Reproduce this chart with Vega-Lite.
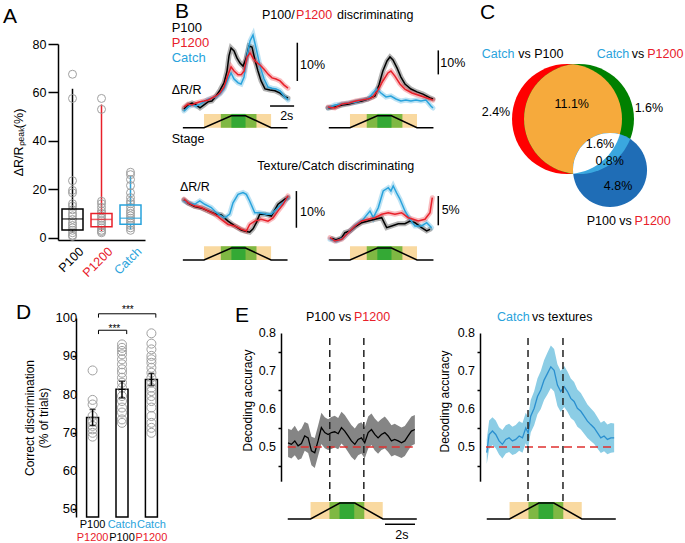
{
"$schema":"https://vega.github.io/schema/vega-lite/v6.json",
"background":"white",
"padding":0,
"autosize":{"type":"pad"},
"config":{
 "view":{"stroke":null},
 "font":"Liberation Sans",
 "axis":{"labelFont":"Liberation Sans","titleFont":"Liberation Sans","labelColor":"#000","titleColor":"#000","domainColor":"#000","tickColor":"#000","grid":false,"titleFontWeight":"normal","domainWidth":1.5,"tickWidth":1.5,"labelFontSize":12.5,"titleFontSize":12.5},
 "text":{"font":"Liberation Sans","fontSize":12.5,"color":"#000"},
 "title":{"font":"Liberation Sans","fontWeight":"normal","fontSize":21,"anchor":"start","frame":"group","color":"#000"}
},
"datasets":{
 "boxes":[{"g":"P100","lo":2,"q1":3.1,"med":7.7,"q3":11.8,"hi":61.5},{"g":"P1200","lo":2.7,"q1":4.5,"med":7.5,"q3":10,"hi":55},{"g":"Catch","lo":3.4,"q1":5.5,"med":8,"q3":13.5,"hi":25.5}],
 "apts":[
  {"g":"P100","v":67.5},{"g":"P100","v":57.5},{"g":"P100","v":23.5},{"g":"P100","v":19.5},{"g":"P100","v":18.5},{"g":"P100","v":14},{"g":"P100","v":13},{"g":"P100","v":11.5},{"g":"P100","v":10},{"g":"P100","v":9},{"g":"P100","v":7.5},{"g":"P100","v":6},{"g":"P100","v":5},{"g":"P100","v":4},{"g":"P100","v":3},{"g":"P100","v":2},{"g":"P100","v":1},{"g":"P100","v":0.5},
  {"g":"P1200","v":57.5},{"g":"P1200","v":53},{"g":"P1200","v":15},{"g":"P1200","v":14},{"g":"P1200","v":12.5},{"g":"P1200","v":11},{"g":"P1200","v":10},{"g":"P1200","v":9},{"g":"P1200","v":8},{"g":"P1200","v":7},{"g":"P1200","v":6},{"g":"P1200","v":5},{"g":"P1200","v":4},{"g":"P1200","v":3},{"g":"P1200","v":2.5},{"g":"P1200","v":2},
  {"g":"Catch","v":27},{"g":"Catch","v":26},{"g":"Catch","v":24},{"g":"Catch","v":21.5},{"g":"Catch","v":18.5},{"g":"Catch","v":16.5},{"g":"Catch","v":15},{"g":"Catch","v":14},{"g":"Catch","v":12.5},{"g":"Catch","v":11},{"g":"Catch","v":10},{"g":"Catch","v":9},{"g":"Catch","v":8},{"g":"Catch","v":7},{"g":"Catch","v":6},{"g":"Catch","v":5},{"g":"Catch","v":4},{"g":"Catch","v":3}
 ],
 "b1":[
  {"t":0,"v":1.3,"s":"P100"},{"t":0.35,"v":2.4,"s":"P100"},{"t":0.7,"v":2.9,"s":"P100"},{"t":1.04,"v":2.4,"s":"P100"},{"t":1.39,"v":1.6,"s":"P100"},{"t":1.74,"v":2.4,"s":"P100"},{"t":2.09,"v":3.2,"s":"P100"},{"t":2.43,"v":3.4,"s":"P100"},{"t":2.78,"v":4.7,"s":"P100"},{"t":3.13,"v":6.3,"s":"P100"},{"t":3.48,"v":8.2,"s":"P100"},{"t":3.74,"v":11.3,"s":"P100"},{"t":3.91,"v":15.3,"s":"P100"},{"t":4.09,"v":17.4,"s":"P100"},{"t":4.35,"v":16.6,"s":"P100"},{"t":4.61,"v":14.7,"s":"P100"},{"t":4.87,"v":13.4,"s":"P100"},{"t":5.13,"v":12.6,"s":"P100"},{"t":5.39,"v":14.5,"s":"P100"},{"t":5.65,"v":17.9,"s":"P100"},{"t":5.91,"v":17.6,"s":"P100"},{"t":6.17,"v":14.2,"s":"P100"},{"t":6.43,"v":11.3,"s":"P100"},{"t":6.7,"v":8.7,"s":"P100"},{"t":7.04,"v":6.6,"s":"P100"},{"t":7.48,"v":6.3,"s":"P100"},{"t":7.91,"v":6.1,"s":"P100"},{"t":8.35,"v":5.5,"s":"P100"},{"t":8.78,"v":4.5,"s":"P100"},{"t":9.04,"v":4.2,"s":"P100"},
  {"t":0,"v":0.8,"s":"Catch"},{"t":0.35,"v":1.8,"s":"Catch"},{"t":0.7,"v":2.4,"s":"Catch"},{"t":1.04,"v":2.1,"s":"Catch"},{"t":1.39,"v":2.6,"s":"Catch"},{"t":1.74,"v":3.2,"s":"Catch"},{"t":2.09,"v":3.9,"s":"Catch"},{"t":2.43,"v":4.2,"s":"Catch"},{"t":2.78,"v":4.5,"s":"Catch"},{"t":3.13,"v":5.3,"s":"Catch"},{"t":3.48,"v":6.6,"s":"Catch"},{"t":3.83,"v":9.2,"s":"Catch"},{"t":4.09,"v":10.8,"s":"Catch"},{"t":4.35,"v":9.2,"s":"Catch"},{"t":4.7,"v":8.2,"s":"Catch"},{"t":4.96,"v":7.9,"s":"Catch"},{"t":5.22,"v":9.7,"s":"Catch"},{"t":5.48,"v":15.3,"s":"Catch"},{"t":5.74,"v":19.2,"s":"Catch"},{"t":6.0,"v":20.8,"s":"Catch"},{"t":6.26,"v":17.4,"s":"Catch"},{"t":6.61,"v":12.6,"s":"Catch"},{"t":6.96,"v":9.2,"s":"Catch"},{"t":7.3,"v":7.1,"s":"Catch"},{"t":7.65,"v":6.8,"s":"Catch"},{"t":8.0,"v":6.6,"s":"Catch"},{"t":8.35,"v":6.1,"s":"Catch"},{"t":8.7,"v":4.7,"s":"Catch"},{"t":9.04,"v":3.7,"s":"Catch"},
  {"t":0,"v":1.8,"s":"P1200"},{"t":0.35,"v":2.6,"s":"P1200"},{"t":0.7,"v":2.4,"s":"P1200"},{"t":1.04,"v":2.9,"s":"P1200"},{"t":1.39,"v":3.2,"s":"P1200"},{"t":1.74,"v":3.4,"s":"P1200"},{"t":2.09,"v":3.7,"s":"P1200"},{"t":2.43,"v":4.2,"s":"P1200"},{"t":2.78,"v":4.7,"s":"P1200"},{"t":3.13,"v":5.5,"s":"P1200"},{"t":3.48,"v":7.1,"s":"P1200"},{"t":3.83,"v":10.3,"s":"P1200"},{"t":4.09,"v":12.4,"s":"P1200"},{"t":4.35,"v":11.3,"s":"P1200"},{"t":4.7,"v":10.3,"s":"P1200"},{"t":4.96,"v":10.3,"s":"P1200"},{"t":5.22,"v":11.3,"s":"P1200"},{"t":5.48,"v":15.0,"s":"P1200"},{"t":5.74,"v":16.1,"s":"P1200"},{"t":6.0,"v":14.7,"s":"P1200"},{"t":6.26,"v":13.7,"s":"P1200"},{"t":6.61,"v":12.9,"s":"P1200"},{"t":6.96,"v":11.8,"s":"P1200"},{"t":7.3,"v":10.5,"s":"P1200"},{"t":7.65,"v":9.5,"s":"P1200"},{"t":8.0,"v":9.2,"s":"P1200"},{"t":8.35,"v":8.7,"s":"P1200"},{"t":8.7,"v":7.6,"s":"P1200"},{"t":9.04,"v":6.8,"s":"P1200"}
 ],
 "b2":[
  {"t":-0.17,"v":2.5,"s":"P100"},{"t":0.43,"v":2.9,"s":"P100"},{"t":1.04,"v":3.75,"s":"P100"},{"t":1.65,"v":4.2,"s":"P100"},{"t":2.26,"v":5.0,"s":"P100"},{"t":2.78,"v":5.4,"s":"P100"},{"t":3.3,"v":6.25,"s":"P100"},{"t":3.91,"v":7.5,"s":"P100"},{"t":4.26,"v":12.1,"s":"P100"},{"t":4.6,"v":17.9,"s":"P100"},{"t":4.96,"v":22.1,"s":"P100"},{"t":5.22,"v":23.75,"s":"P100"},{"t":5.48,"v":22.5,"s":"P100"},{"t":5.83,"v":19.2,"s":"P100"},{"t":6.17,"v":15.4,"s":"P100"},{"t":6.52,"v":12.5,"s":"P100"},{"t":7.04,"v":10.4,"s":"P100"},{"t":7.57,"v":9.2,"s":"P100"},{"t":8.09,"v":8.3,"s":"P100"},{"t":8.7,"v":6.7,"s":"P100"},{"t":8.96,"v":6.25,"s":"P100"},
  {"t":-0.17,"v":2.5,"s":"Catch"},{"t":0.43,"v":3.75,"s":"Catch"},{"t":1.04,"v":4.2,"s":"Catch"},{"t":1.65,"v":4.6,"s":"Catch"},{"t":2.26,"v":5.0,"s":"Catch"},{"t":2.78,"v":5.8,"s":"Catch"},{"t":3.3,"v":6.25,"s":"Catch"},{"t":3.74,"v":8.75,"s":"Catch"},{"t":4.09,"v":10.4,"s":"Catch"},{"t":4.43,"v":8.75,"s":"Catch"},{"t":4.87,"v":7.1,"s":"Catch"},{"t":5.3,"v":7.5,"s":"Catch"},{"t":5.74,"v":6.25,"s":"Catch"},{"t":6.17,"v":5.4,"s":"Catch"},{"t":6.6,"v":5.8,"s":"Catch"},{"t":7.04,"v":5.4,"s":"Catch"},{"t":7.48,"v":5.8,"s":"Catch"},{"t":7.91,"v":5.4,"s":"Catch"},{"t":8.35,"v":5.8,"s":"Catch"},{"t":8.78,"v":3.3,"s":"Catch"},{"t":8.96,"v":2.5,"s":"Catch"},
  {"t":-0.17,"v":2.9,"s":"P1200"},{"t":0.43,"v":2.5,"s":"P1200"},{"t":1.04,"v":4.2,"s":"P1200"},{"t":1.65,"v":4.6,"s":"P1200"},{"t":2.26,"v":5.4,"s":"P1200"},{"t":2.78,"v":5.8,"s":"P1200"},{"t":3.3,"v":6.25,"s":"P1200"},{"t":3.74,"v":7.1,"s":"P1200"},{"t":4.17,"v":10.0,"s":"P1200"},{"t":4.6,"v":13.75,"s":"P1200"},{"t":5.04,"v":17.1,"s":"P1200"},{"t":5.3,"v":17.9,"s":"P1200"},{"t":5.65,"v":15.8,"s":"P1200"},{"t":6.09,"v":12.5,"s":"P1200"},{"t":6.52,"v":10.4,"s":"P1200"},{"t":7.13,"v":8.75,"s":"P1200"},{"t":7.65,"v":7.9,"s":"P1200"},{"t":8.17,"v":7.1,"s":"P1200"},{"t":8.7,"v":6.25,"s":"P1200"},{"t":8.96,"v":5.8,"s":"P1200"}
 ],
 "b3":[
  {"t":0,"v":12.3,"s":"P100"},{"t":0.35,"v":11.4,"s":"P100"},{"t":0.93,"v":10.5,"s":"P100"},{"t":1.5,"v":10.1,"s":"P100"},{"t":2.09,"v":9.3,"s":"P100"},{"t":2.67,"v":8.5,"s":"P100"},{"t":3.24,"v":8.2,"s":"P100"},{"t":3.83,"v":6.5,"s":"P100"},{"t":4.41,"v":5.2,"s":"P100"},{"t":4.98,"v":4.1,"s":"P100"},{"t":5.28,"v":3.8,"s":"P100"},{"t":5.71,"v":3.5,"s":"P100"},{"t":6.0,"v":4.4,"s":"P100"},{"t":6.29,"v":6.1,"s":"P100"},{"t":6.58,"v":8.4,"s":"P100"},{"t":7.04,"v":8.4,"s":"P100"},{"t":7.59,"v":7.9,"s":"P100"},{"t":8.17,"v":11.1,"s":"P100"},{"t":8.76,"v":12.5,"s":"P100"},{"t":9.04,"v":12.9,"s":"P100"},
  {"t":0,"v":12.0,"s":"Catch"},{"t":0.35,"v":11.5,"s":"Catch"},{"t":0.93,"v":11.1,"s":"Catch"},{"t":1.37,"v":12.0,"s":"Catch"},{"t":1.8,"v":11.1,"s":"Catch"},{"t":2.37,"v":10.2,"s":"Catch"},{"t":2.96,"v":8.4,"s":"Catch"},{"t":3.54,"v":7.4,"s":"Catch"},{"t":3.97,"v":8.4,"s":"Catch"},{"t":4.26,"v":11.5,"s":"Catch"},{"t":4.7,"v":13.8,"s":"Catch"},{"t":5.13,"v":14.3,"s":"Catch"},{"t":5.42,"v":13.8,"s":"Catch"},{"t":5.71,"v":12.0,"s":"Catch"},{"t":6.15,"v":8.8,"s":"Catch"},{"t":6.58,"v":8.8,"s":"Catch"},{"t":7.16,"v":8.4,"s":"Catch"},{"t":7.59,"v":8.4,"s":"Catch"},{"t":8.17,"v":10.2,"s":"Catch"},{"t":8.61,"v":11.5,"s":"Catch"},{"t":9.04,"v":12.9,"s":"Catch"},
  {"t":0,"v":12.5,"s":"P1200"},{"t":0.35,"v":11.5,"s":"P1200"},{"t":0.93,"v":10.6,"s":"P1200"},{"t":1.5,"v":10.2,"s":"P1200"},{"t":2.09,"v":9.3,"s":"P1200"},{"t":2.67,"v":8.4,"s":"P1200"},{"t":3.24,"v":7.0,"s":"P1200"},{"t":3.83,"v":5.6,"s":"P1200"},{"t":4.41,"v":5.2,"s":"P1200"},{"t":4.98,"v":4.3,"s":"P1200"},{"t":5.42,"v":3.8,"s":"P1200"},{"t":5.71,"v":5.6,"s":"P1200"},{"t":6.15,"v":6.5,"s":"P1200"},{"t":6.72,"v":7.0,"s":"P1200"},{"t":7.3,"v":6.5,"s":"P1200"},{"t":7.74,"v":7.4,"s":"P1200"},{"t":8.17,"v":9.3,"s":"P1200"},{"t":8.61,"v":11.1,"s":"P1200"},{"t":9.04,"v":13.4,"s":"P1200"}
 ],
 "b4":[
  {"t":0.2,"v":1.1,"s":"P100"},{"t":0.52,"v":0.85,"s":"P100"},{"t":1.02,"v":1.24,"s":"P100"},{"t":1.3,"v":2.1,"s":"P100"},{"t":1.74,"v":2.39,"s":"P100"},{"t":2.17,"v":3.07,"s":"P100"},{"t":2.76,"v":3.8,"s":"P100"},{"t":3.33,"v":4.09,"s":"P100"},{"t":3.91,"v":4.38,"s":"P100"},{"t":4.5,"v":4.65,"s":"P100"},{"t":4.93,"v":2.95,"s":"P100"},{"t":5.37,"v":3.24,"s":"P100"},{"t":5.94,"v":3.63,"s":"P100"},{"t":6.52,"v":3.63,"s":"P100"},{"t":6.96,"v":4.09,"s":"P100"},{"t":7.39,"v":3.8,"s":"P100"},{"t":7.97,"v":2.95,"s":"P100"},{"t":8.41,"v":2.39,"s":"P100"},{"t":8.7,"v":2.67,"s":"P100"},
  {"t":0,"v":0.97,"s":"Catch"},{"t":0.58,"v":0.68,"s":"Catch"},{"t":1.16,"v":1.24,"s":"Catch"},{"t":1.74,"v":2.39,"s":"Catch"},{"t":2.32,"v":3.53,"s":"Catch"},{"t":2.9,"v":4.38,"s":"Catch"},{"t":3.48,"v":5.79,"s":"Catch"},{"t":3.77,"v":4.65,"s":"Catch"},{"t":4.2,"v":6.35,"s":"Catch"},{"t":4.63,"v":9.2,"s":"Catch"},{"t":5.07,"v":9.76,"s":"Catch"},{"t":5.3,"v":9.2,"s":"Catch"},{"t":5.5,"v":10.05,"s":"Catch"},{"t":5.8,"v":8.86,"s":"Catch"},{"t":6.09,"v":7.79,"s":"Catch"},{"t":6.52,"v":5.79,"s":"Catch"},{"t":6.96,"v":4.38,"s":"Catch"},{"t":7.39,"v":3.24,"s":"Catch"},{"t":7.97,"v":3.24,"s":"Catch"},{"t":8.41,"v":3.8,"s":"Catch"},{"t":8.84,"v":2.95,"s":"Catch"},
  {"t":0,"v":1.24,"s":"P1200"},{"t":0.43,"v":0.68,"s":"P1200"},{"t":1.02,"v":0.97,"s":"P1200"},{"t":1.59,"v":2.1,"s":"P1200"},{"t":2.17,"v":3.24,"s":"P1200"},{"t":2.76,"v":4.09,"s":"P1200"},{"t":3.33,"v":4.38,"s":"P1200"},{"t":3.91,"v":4.65,"s":"P1200"},{"t":4.5,"v":5.23,"s":"P1200"},{"t":5.07,"v":5.5,"s":"P1200"},{"t":5.65,"v":5.23,"s":"P1200"},{"t":6.23,"v":5.5,"s":"P1200"},{"t":6.81,"v":4.65,"s":"P1200"},{"t":7.24,"v":4.38,"s":"P1200"},{"t":7.68,"v":4.09,"s":"P1200"},{"t":8.26,"v":4.38,"s":"P1200"},{"t":8.7,"v":5.5,"s":"P1200"},{"t":8.9,"v":8.06,"s":"P1200"}
 ],
 "zonesB":[{"zone":"window","t0":1.74,"t1":7.57},{"zone":"touch","t0":3.2,"t1":6.3},{"zone":"hold","t0":4.12,"t1":5.35}],
 "trapB":[{"t":-0.1,"lift":0},{"t":1.74,"lift":0},{"t":4.12,"lift":1},{"t":5.35,"lift":1},{"t":7.57,"lift":0},{"t":9.0,"lift":0}],
 "zonesE":[{"zone":"window","t0":1.52,"t1":6.33},{"zone":"touch","t0":2.78,"t1":5.1},{"zone":"hold","t0":3.45,"t1":4.43}],
 "trapE":[{"t":0,"lift":0},{"t":1.52,"lift":0},{"t":3.47,"lift":1},{"t":4.47,"lift":1},{"t":6.34,"lift":0},{"t":8.6,"lift":0}],
 "etk":[{"tk":0.5},{"tk":0.6},{"tk":0.7},{"tk":0.8}],
 "dtk":[{"tk":50},{"tk":60},{"tk":70},{"tk":80},{"tk":90},{"tk":100}],
 "e1":[
  {"t":0.02,"v":0.511,"lo":0.474,"hi":0.548},{"t":0.24,"v":0.507,"lo":0.470,"hi":0.545},{"t":0.47,"v":0.516,"lo":0.478,"hi":0.556},{"t":0.69,"v":0.503,"lo":0.466,"hi":0.541},{"t":0.91,"v":0.509,"lo":0.470,"hi":0.548},{"t":1.13,"v":0.529,"lo":0.490,"hi":0.566},{"t":1.36,"v":0.524,"lo":0.484,"hi":0.561},{"t":1.58,"v":0.490,"lo":0.452,"hi":0.527},{"t":1.8,"v":0.485,"lo":0.445,"hi":0.524},{"t":2.02,"v":0.516,"lo":0.476,"hi":0.556},{"t":2.24,"v":0.551,"lo":0.508,"hi":0.590},{"t":2.47,"v":0.538,"lo":0.497,"hi":0.578},{"t":2.69,"v":0.533,"lo":0.492,"hi":0.573},{"t":2.91,"v":0.538,"lo":0.495,"hi":0.579},{"t":3.13,"v":0.540,"lo":0.499,"hi":0.582},{"t":3.36,"v":0.535,"lo":0.494,"hi":0.576},{"t":3.58,"v":0.551,"lo":0.509,"hi":0.593},{"t":3.8,"v":0.542,"lo":0.500,"hi":0.584},{"t":4.02,"v":0.529,"lo":0.487,"hi":0.571},{"t":4.24,"v":0.516,"lo":0.474,"hi":0.558},{"t":4.47,"v":0.507,"lo":0.465,"hi":0.549},{"t":4.69,"v":0.520,"lo":0.478,"hi":0.561},{"t":4.91,"v":0.524,"lo":0.483,"hi":0.565},{"t":5.13,"v":0.511,"lo":0.470,"hi":0.552},{"t":5.36,"v":0.538,"lo":0.496,"hi":0.580},{"t":5.58,"v":0.546,"lo":0.505,"hi":0.588},{"t":5.8,"v":0.533,"lo":0.491,"hi":0.575},{"t":6.02,"v":0.524,"lo":0.482,"hi":0.566},{"t":6.24,"v":0.533,"lo":0.492,"hi":0.574},{"t":6.47,"v":0.538,"lo":0.496,"hi":0.580},{"t":6.69,"v":0.529,"lo":0.487,"hi":0.570},{"t":6.91,"v":0.516,"lo":0.475,"hi":0.557},{"t":7.13,"v":0.520,"lo":0.479,"hi":0.561},{"t":7.36,"v":0.516,"lo":0.475,"hi":0.556},{"t":7.58,"v":0.511,"lo":0.471,"hi":0.551},{"t":7.8,"v":0.516,"lo":0.476,"hi":0.555},{"t":8.02,"v":0.529,"lo":0.490,"hi":0.568},{"t":8.24,"v":0.542,"lo":0.503,"hi":0.580},{"t":8.47,"v":0.546,"lo":0.508,"hi":0.584}
 ],
 "e2":[
  {"t":0,"v":0.485,"lo":0.455,"hi":0.52},{"t":0.16,"v":0.533,"lo":0.495,"hi":0.57},{"t":0.38,"v":0.542,"lo":0.505,"hi":0.578},{"t":0.6,"v":0.533,"lo":0.497,"hi":0.57},{"t":0.82,"v":0.516,"lo":0.48,"hi":0.552},{"t":1.04,"v":0.507,"lo":0.47,"hi":0.545},{"t":1.27,"v":0.52,"lo":0.483,"hi":0.557},{"t":1.49,"v":0.524,"lo":0.487,"hi":0.561},{"t":1.71,"v":0.516,"lo":0.479,"hi":0.553},{"t":1.93,"v":0.52,"lo":0.482,"hi":0.558},{"t":2.16,"v":0.529,"lo":0.49,"hi":0.568},{"t":2.38,"v":0.524,"lo":0.485,"hi":0.563},{"t":2.6,"v":0.55,"lo":0.51,"hi":0.59},{"t":2.76,"v":0.537,"lo":0.497,"hi":0.578},{"t":2.93,"v":0.581,"lo":0.538,"hi":0.624},{"t":3.16,"v":0.602,"lo":0.557,"hi":0.647},{"t":3.38,"v":0.633,"lo":0.586,"hi":0.68},{"t":3.6,"v":0.65,"lo":0.6,"hi":0.7},{"t":3.82,"v":0.676,"lo":0.624,"hi":0.728},{"t":4.04,"v":0.693,"lo":0.638,"hi":0.748},{"t":4.27,"v":0.711,"lo":0.655,"hi":0.767},{"t":4.49,"v":0.702,"lo":0.646,"hi":0.758},{"t":4.71,"v":0.663,"lo":0.608,"hi":0.718},{"t":4.93,"v":0.646,"lo":0.592,"hi":0.7},{"t":5.16,"v":0.659,"lo":0.605,"hi":0.713},{"t":5.38,"v":0.646,"lo":0.593,"hi":0.699},{"t":5.6,"v":0.628,"lo":0.576,"hi":0.68},{"t":5.82,"v":0.62,"lo":0.569,"hi":0.671},{"t":6.04,"v":0.602,"lo":0.553,"hi":0.651},{"t":6.27,"v":0.594,"lo":0.546,"hi":0.642},{"t":6.49,"v":0.581,"lo":0.535,"hi":0.627},{"t":6.71,"v":0.568,"lo":0.524,"hi":0.612},{"t":6.93,"v":0.559,"lo":0.516,"hi":0.602},{"t":7.16,"v":0.55,"lo":0.508,"hi":0.592},{"t":7.38,"v":0.537,"lo":0.496,"hi":0.578},{"t":7.6,"v":0.524,"lo":0.484,"hi":0.564},{"t":7.82,"v":0.529,"lo":0.489,"hi":0.569},{"t":8.04,"v":0.52,"lo":0.481,"hi":0.559},{"t":8.27,"v":0.524,"lo":0.485,"hi":0.563},{"t":8.49,"v":0.524,"lo":0.486,"hi":0.562}
 ],
 "dbars":[{"c":1,"m":74,"lo":71.9,"hi":76.1},{"c":2,"m":81.4,"lo":79.1,"hi":83.5},{"c":3,"m":83.9,"lo":82.4,"hi":85.5}],
 "dpts":[
  {"c":1,"v":86.3},{"c":1,"v":78.6},{"c":1,"v":77.4},{"c":1,"v":74.4},{"c":1,"v":73},{"c":1,"v":71.8},{"c":1,"v":70.9},{"c":1,"v":70},{"c":1,"v":69},
  {"c":2,"v":93.1},{"c":2,"v":92.2},{"c":2,"v":91.4},{"c":2,"v":90.5},{"c":2,"v":89.2},{"c":2,"v":87.9},{"c":2,"v":86.6},{"c":2,"v":85.7},{"c":2,"v":84.4},{"c":2,"v":83.1},{"c":2,"v":81.8},{"c":2,"v":79.6},{"c":2,"v":78.3},{"c":2,"v":76.6},{"c":2,"v":75.3},{"c":2,"v":73.5},{"c":2,"v":72.6},
  {"c":3,"v":96},{"c":3,"v":93.3},{"c":3,"v":91.8},{"c":3,"v":90.1},{"c":3,"v":89.2},{"c":3,"v":88.3},{"c":3,"v":87},{"c":3,"v":85.7},{"c":3,"v":84.4},{"c":3,"v":83.1},{"c":3,"v":81.8},{"c":3,"v":80.9},{"c":3,"v":79.6},{"c":3,"v":78.3},{"c":3,"v":76.6},{"c":3,"v":74.4},{"c":3,"v":72.6},{"c":3,"v":71.3},{"c":3,"v":70}
 ],
 "dlabels":[{"c":1,"row":1,"lab":"P100"},{"c":1,"row":2,"lab":"P1200"},{"c":2,"row":1,"lab":"Catch"},{"c":2,"row":2,"lab":"P100"},{"c":3,"row":1,"lab":"Catch"},{"c":3,"row":2,"lab":"P1200"}]
},
"columns":6,"align":"each","bounds":"flush","spacing":0,
"resolve":{"scale":{"color":"independent"}},
"concat":[
 {"width":1,"height":28,"data":{"values":[]},"mark":"point"},
 {"width":1,"height":28,"data":{"values":[]},"mark":"point"},
 {"width":1,"height":28,"data":{"values":[]},"mark":"point"},
 {"width":1,"height":28,"data":{"values":[]},"mark":"point"},
 {"width":1,"height":28,"data":{"values":[]},"mark":"point"},
 {"width":1,"height":28,"data":{"values":[]},"mark":"point"},

 {"width":58,"height":1,"data":{"values":[]},"mark":"point"},
 {"width":87,"height":211,
  "title":{"text":"A","dx":-55,"offset":2},
  "layer":[
   {"data":{"name":"boxes"},"mark":{"type":"rule","strokeWidth":1.5},"encoding":{"x":{"field":"g","type":"nominal","scale":{"type":"point","padding":0.5,"domain":["P100","P1200","Catch"]},"axis":{"title":null,"labels":false,"ticks":false,"domain":true}},"y":{"field":"lo","type":"quantitative","scale":{"domain":[-1,80],"range":[211,15],"nice":false,"zero":false},"axis":{"title":"ΔR/Rₚₑₐₖ(%)","values":[0,20,40,60,80],"tickSize":10,"labelPadding":2,"titlePadding":7}},"y2":{"field":"q1"},"color":{"field":"g","type":"nominal","scale":{"domain":["P100","P1200","Catch"],"range":["#000000","#e8202a","#29a3dc"]},"legend":null}}},
   {"data":{"name":"boxes"},"mark":{"type":"rule","strokeWidth":1.5},"encoding":{"x":{"field":"g","type":"nominal"},"y":{"field":"q3","type":"quantitative"},"y2":{"field":"hi"},"color":{"field":"g","type":"nominal","legend":null}}},
   {"data":{"name":"apts"},"mark":{"type":"point","size":64,"filled":false,"color":"#a0a0a0","strokeWidth":1,"opacity":1},"encoding":{"x":{"field":"g","type":"nominal"},"y":{"field":"v","type":"quantitative"}}},
   {"data":{"name":"boxes"},"mark":{"type":"bar","size":21,"filled":false,"strokeWidth":1.5,"orient":"vertical"},"encoding":{"x":{"field":"g","type":"nominal"},"y":{"field":"q1","type":"quantitative"},"y2":{"field":"q3"},"color":{"field":"g","type":"nominal","legend":null}}},
   {"data":{"name":"boxes"},"mark":{"type":"tick","orient":"horizontal","size":21,"thickness":1.5},"encoding":{"x":{"field":"g","type":"nominal"},"y":{"field":"med","type":"quantitative"},"color":{"field":"g","type":"nominal","legend":null}}},
   {"data":{"name":"boxes"},"mark":{"type":"text","angle":315,"align":"right","baseline":"middle","xOffset":9},"encoding":{"x":{"field":"g","type":"nominal"},"y":{"datum":-4.9,"type":"quantitative"},"text":{"field":"g"},"color":{"field":"g","type":"nominal","legend":null}}}
  ]},
 {"width":16,"height":1,"data":{"values":[]},"mark":"point"},
 {"width":249,"height":233,
  "resolve":{"scale":{"x":"independent","y":"independent"}},
  "layer":[
   {"data":{"name":"b1"},"layer":[
    {"mark":{"type":"line","strokeWidth":5,"opacity":0.3,"strokeCap":"round"},"encoding":{"x":{"field":"t","type":"quantitative","scale":{"domain":[0,9.04],"range":[0,104],"nice":false,"zero":false},"axis":null},"y":{"field":"v","type":"quantitative","scale":{"domain":[0,10],"range":[85,47],"nice":false,"zero":false},"axis":null},"color":{"field":"s","type":"nominal","scale":{"domain":["P100","Catch","P1200"],"range":["#000000","#29a3dc","#e8202a"]},"legend":null}}},
    {"mark":{"type":"line","strokeWidth":1.5},"encoding":{"x":{"field":"t","type":"quantitative","axis":null},"y":{"field":"v","type":"quantitative","axis":null},"color":{"field":"s","type":"nominal","legend":null}}},
    {"data":{"values":[{}]},"mark":{"type":"rule","strokeWidth":1.5,"color":"#000"},"encoding":{"x":{"datum":9.85,"type":"quantitative","axis":null},"y":{"datum":8.68,"type":"quantitative","axis":null},"y2":{"datum":18.76}}},
    {"data":{"values":[{}]},"mark":{"type":"rule","strokeWidth":1.5,"color":"#000"},"encoding":{"x":{"datum":7.48,"type":"quantitative","axis":null},"x2":{"datum":9.57},"y":{"datum":2.1,"type":"quantitative","axis":null}}},
    {"data":{"values":[{}]},"mark":{"type":"text","text":"B","align":"left","baseline":"alphabetic","fontSize":21},"encoding":{"x":{"datum":-0.78,"type":"quantitative","axis":null},"y":{"datum":25.3,"type":"quantitative","axis":null}}},
    {"data":{"values":[{}]},"mark":{"type":"text","text":"10%","align":"left","baseline":"middle"},"encoding":{"x":{"datum":10.09,"type":"quantitative","axis":null},"y":{"datum":12.9,"type":"quantitative","axis":null}}},
    {"data":{"values":[{}]},"mark":{"type":"text","text":"2s","align":"center","baseline":"middle"},"encoding":{"x":{"datum":8.93,"type":"quantitative","axis":null},"y":{"datum":-0.5,"type":"quantitative","axis":null}}},
    {"data":{"values":[{}]},"mark":{"type":"text","text":"P100","align":"left","baseline":"middle","fontSize":13},"encoding":{"x":{"datum":-1.07,"type":"quantitative","axis":null},"y":{"datum":22.7,"type":"quantitative","axis":null}}},
    {"data":{"values":[{}]},"mark":{"type":"text","text":"P1200","align":"left","baseline":"middle","fontSize":13,"color":"#e8202a"},"encoding":{"x":{"datum":-1.07,"type":"quantitative","axis":null},"y":{"datum":18.6,"type":"quantitative","axis":null}}},
    {"data":{"values":[{}]},"mark":{"type":"text","text":"Catch","align":"left","baseline":"middle","fontSize":13,"color":"#29a3dc"},"encoding":{"x":{"datum":-1.07,"type":"quantitative","axis":null},"y":{"datum":14.7,"type":"quantitative","axis":null}}},
    {"data":{"values":[{}]},"mark":{"type":"text","text":"ΔR/R","align":"left","baseline":"middle"},"encoding":{"x":{"datum":-1.07,"type":"quantitative","axis":null},"y":{"datum":6.3,"type":"quantitative","axis":null}}},
    {"data":{"values":[{}]},"mark":{"type":"text","text":"Stage","align":"left","baseline":"middle"},"encoding":{"x":{"datum":-1.07,"type":"quantitative","axis":null},"y":{"datum":-6.45,"type":"quantitative","axis":null}}},
    {"data":{"values":[{}]},"mark":{"type":"text","text":"P100/","align":"left","baseline":"middle"},"encoding":{"x":{"datum":6.78,"type":"quantitative","axis":null},"y":{"datum":26.05,"type":"quantitative","axis":null}}},
    {"data":{"values":[{}]},"mark":{"type":"text","text":"P1200","align":"left","baseline":"middle","color":"#e8202a"},"encoding":{"x":{"datum":9.74,"type":"quantitative","axis":null},"y":{"datum":26.05,"type":"quantitative","axis":null}}},
    {"data":{"values":[{}]},"mark":{"type":"text","text":"discriminating","align":"left","baseline":"middle"},"encoding":{"x":{"datum":13.3,"type":"quantitative","axis":null},"y":{"datum":26.05,"type":"quantitative","axis":null}}}
   ]},
   {"layer":[
    {"data":{"name":"zonesB"},"transform":[{"filter":"datum.zone==='window'"}],"mark":{"type":"rect","color":"#f9d9a0"},"encoding":{"x":{"field":"t0","type":"quantitative","scale":{"domain":[0,9.04],"range":[0,104],"nice":false,"zero":false},"axis":null},"x2":{"field":"t1"},"y":{"datum":0,"type":"quantitative","scale":{"domain":[0,1],"range":[98.7,86.7],"nice":false,"zero":false},"axis":null},"y2":{"datum":1.15}}},
    {"data":{"name":"zonesB"},"transform":[{"filter":"datum.zone==='touch'"}],"mark":{"type":"rect","color":"#7fb843"},"encoding":{"x":{"field":"t0","type":"quantitative","axis":null},"x2":{"field":"t1"},"y":{"datum":0,"type":"quantitative","axis":null},"y2":{"datum":1.15}}},
    {"data":{"name":"zonesB"},"transform":[{"filter":"datum.zone==='hold'"}],"mark":{"type":"rect","color":"#34a935"},"encoding":{"x":{"field":"t0","type":"quantitative","axis":null},"x2":{"field":"t1"},"y":{"datum":0,"type":"quantitative","axis":null},"y2":{"datum":1.15}}},
    {"data":{"name":"trapB"},"mark":{"type":"line","color":"#000","strokeWidth":1.5},"encoding":{"x":{"field":"t","type":"quantitative","axis":null},"y":{"field":"lift","type":"quantitative","axis":null}}}
   ]},
   {"data":{"name":"b3"},"layer":[
    {"mark":{"type":"line","strokeWidth":5,"opacity":0.3,"strokeCap":"round"},"encoding":{"x":{"field":"t","type":"quantitative","scale":{"domain":[0,9.04],"range":[0,104],"nice":false,"zero":false},"axis":null},"y":{"field":"v","type":"quantitative","scale":{"domain":[0,10],"range":[216,179.3],"nice":false,"zero":false},"axis":null},"color":{"field":"s","type":"nominal","legend":null}}},
    {"mark":{"type":"line","strokeWidth":1.5},"encoding":{"x":{"field":"t","type":"quantitative","axis":null},"y":{"field":"v","type":"quantitative","axis":null},"color":{"field":"s","type":"nominal","legend":null}}},
    {"data":{"values":[{}]},"mark":{"type":"rule","strokeWidth":1.5,"color":"#000"},"encoding":{"x":{"datum":9.77,"type":"quantitative","axis":null},"y":{"datum":4.7,"type":"quantitative","axis":null},"y2":{"datum":14.7}}},
    {"data":{"values":[{}]},"mark":{"type":"text","text":"10%","align":"left","baseline":"middle"},"encoding":{"x":{"datum":10.09,"type":"quantitative","axis":null},"y":{"datum":9.0,"type":"quantitative","axis":null}}},
    {"data":{"values":[{}]},"mark":{"type":"text","text":"ΔR/R","align":"left","baseline":"middle"},"encoding":{"x":{"datum":-0.35,"type":"quantitative","axis":null},"y":{"datum":15.8,"type":"quantitative","axis":null}}},
    {"data":{"values":[{}]},"mark":{"type":"text","text":"Texture/Catch discriminating","align":"left","baseline":"middle"},"encoding":{"x":{"datum":6.37,"type":"quantitative","axis":null},"y":{"datum":21.5,"type":"quantitative","axis":null}}}
   ]},
   {"layer":[
    {"data":{"name":"zonesB"},"transform":[{"filter":"datum.zone==='window'"}],"mark":{"type":"rect","color":"#f9d9a0"},"encoding":{"x":{"field":"t0","type":"quantitative","scale":{"domain":[0,9.04],"range":[0,104],"nice":false,"zero":false},"axis":null},"x2":{"field":"t1"},"y":{"datum":0,"type":"quantitative","scale":{"domain":[0,1],"range":[231,219],"nice":false,"zero":false},"axis":null},"y2":{"datum":1.15}}},
    {"data":{"name":"zonesB"},"transform":[{"filter":"datum.zone==='touch'"}],"mark":{"type":"rect","color":"#7fb843"},"encoding":{"x":{"field":"t0","type":"quantitative","axis":null},"x2":{"field":"t1"},"y":{"datum":0,"type":"quantitative","axis":null},"y2":{"datum":1.15}}},
    {"data":{"name":"zonesB"},"transform":[{"filter":"datum.zone==='hold'"}],"mark":{"type":"rect","color":"#34a935"},"encoding":{"x":{"field":"t0","type":"quantitative","axis":null},"x2":{"field":"t1"},"y":{"datum":0,"type":"quantitative","axis":null},"y2":{"datum":1.15}}},
    {"data":{"name":"trapB"},"mark":{"type":"line","color":"#000","strokeWidth":1.5},"encoding":{"x":{"field":"t","type":"quantitative","axis":null},"y":{"field":"lift","type":"quantitative","axis":null}}}
   ]},
   {"data":{"name":"b2"},"layer":[
    {"mark":{"type":"line","strokeWidth":5,"opacity":0.3,"strokeCap":"round"},"encoding":{"x":{"field":"t","type":"quantitative","scale":{"domain":[-0.17,8.96],"range":[144,249],"nice":false,"zero":false},"axis":null},"y":{"field":"v","type":"quantitative","scale":{"domain":[0,10],"range":[85,61],"nice":false,"zero":false},"axis":null},"color":{"field":"s","type":"nominal","legend":null}}},
    {"mark":{"type":"line","strokeWidth":1.5},"encoding":{"x":{"field":"t","type":"quantitative","axis":null},"y":{"field":"v","type":"quantitative","axis":null},"color":{"field":"s","type":"nominal","legend":null}}},
    {"data":{"values":[{}]},"mark":{"type":"rule","strokeWidth":1.5,"color":"#000"},"encoding":{"x":{"datum":9.42,"type":"quantitative","axis":null},"y":{"datum":16.5,"type":"quantitative","axis":null},"y2":{"datum":26.5}}},
    {"data":{"values":[{}]},"mark":{"type":"text","text":"10%","align":"left","baseline":"middle"},"encoding":{"x":{"datum":9.6,"type":"quantitative","axis":null},"y":{"datum":21.25,"type":"quantitative","axis":null}}}
   ]},
   {"layer":[
    {"data":{"name":"zonesB"},"transform":[{"filter":"datum.zone==='window'"}],"mark":{"type":"rect","color":"#f9d9a0"},"encoding":{"x":{"field":"t0","type":"quantitative","scale":{"domain":[-0.17,8.96],"range":[144,249],"nice":false,"zero":false},"axis":null},"x2":{"field":"t1"},"y":{"datum":0,"type":"quantitative","scale":{"domain":[0,1],"range":[98.7,86.7],"nice":false,"zero":false},"axis":null},"y2":{"datum":1.15}}},
    {"data":{"name":"zonesB"},"transform":[{"filter":"datum.zone==='touch'"}],"mark":{"type":"rect","color":"#7fb843"},"encoding":{"x":{"field":"t0","type":"quantitative","axis":null},"x2":{"field":"t1"},"y":{"datum":0,"type":"quantitative","axis":null},"y2":{"datum":1.15}}},
    {"data":{"name":"zonesB"},"transform":[{"filter":"datum.zone==='hold'"}],"mark":{"type":"rect","color":"#34a935"},"encoding":{"x":{"field":"t0","type":"quantitative","axis":null},"x2":{"field":"t1"},"y":{"datum":0,"type":"quantitative","axis":null},"y2":{"datum":1.15}}},
    {"data":{"name":"trapB"},"mark":{"type":"line","color":"#000","strokeWidth":1.5},"encoding":{"x":{"field":"t","type":"quantitative","axis":null},"y":{"field":"lift","type":"quantitative","axis":null}}}
   ]},
   {"data":{"name":"b4"},"layer":[
    {"mark":{"type":"line","strokeWidth":5,"opacity":0.3,"strokeCap":"round"},"encoding":{"x":{"field":"t","type":"quantitative","scale":{"domain":[-0.17,8.96],"range":[144,249],"nice":false,"zero":false},"axis":null},"y":{"field":"v","type":"quantitative","scale":{"domain":[0,5],"range":[216,186.65],"nice":false,"zero":false},"axis":null},"color":{"field":"s","type":"nominal","legend":null}}},
    {"mark":{"type":"line","strokeWidth":1.5},"encoding":{"x":{"field":"t","type":"quantitative","axis":null},"y":{"field":"v","type":"quantitative","axis":null},"color":{"field":"s","type":"nominal","legend":null}}},
    {"data":{"values":[{}]},"mark":{"type":"rule","strokeWidth":1.5,"color":"#000"},"encoding":{"x":{"datum":9.42,"type":"quantitative","axis":null},"y":{"datum":3.36,"type":"quantitative","axis":null},"y2":{"datum":8.35}}},
    {"data":{"values":[{}]},"mark":{"type":"text","text":"5%","align":"left","baseline":"middle"},"encoding":{"x":{"datum":9.71,"type":"quantitative","axis":null},"y":{"datum":5.96,"type":"quantitative","axis":null}}}
   ]},
   {"layer":[
    {"data":{"name":"zonesB"},"transform":[{"filter":"datum.zone==='window'"}],"mark":{"type":"rect","color":"#f9d9a0"},"encoding":{"x":{"field":"t0","type":"quantitative","scale":{"domain":[-0.17,8.96],"range":[144,249],"nice":false,"zero":false},"axis":null},"x2":{"field":"t1"},"y":{"datum":0,"type":"quantitative","scale":{"domain":[0,1],"range":[231,219],"nice":false,"zero":false},"axis":null},"y2":{"datum":1.15}}},
    {"data":{"name":"zonesB"},"transform":[{"filter":"datum.zone==='touch'"}],"mark":{"type":"rect","color":"#7fb843"},"encoding":{"x":{"field":"t0","type":"quantitative","axis":null},"x2":{"field":"t1"},"y":{"datum":0,"type":"quantitative","axis":null},"y2":{"datum":1.15}}},
    {"data":{"name":"zonesB"},"transform":[{"filter":"datum.zone==='hold'"}],"mark":{"type":"rect","color":"#34a935"},"encoding":{"x":{"field":"t0","type":"quantitative","axis":null},"x2":{"field":"t1"},"y":{"datum":0,"type":"quantitative","axis":null},"y2":{"datum":1.15}}},
    {"data":{"name":"trapB"},"mark":{"type":"line","color":"#000","strokeWidth":1.5},"encoding":{"x":{"field":"t","type":"quantitative","axis":null},"y":{"field":"lift","type":"quantitative","axis":null}}}
   ]}
  ]},
 {"width":47,"height":1,"data":{"values":[]},"mark":"point"},
 {"width":200,"height":212,
  "data":{"values":[{}]},
  "layer":[
   {"mark":{"type":"point","shape":"M 0.891 0 A 1 1 0 1 1 -1.109 0 A 1 1 0 1 1 0.891 0 Z","size":12100,"filled":true,"opacity":1,"color":"#ff0000","strokeWidth":0},"encoding":{"x":{"datum":0,"type":"quantitative","scale":{"domain":[-1.509,1.945],"range":[10,200],"nice":false,"zero":false},"axis":null},"y":{"datum":0,"type":"quantitative","scale":{"domain":[-1.418,2.218],"range":[12,212],"nice":false,"zero":false},"axis":null}}},
   {"mark":{"type":"point","shape":"M 1.109 0 A 1 1 0 1 1 -0.891 0 A 1 1 0 1 1 1.109 0 Z","size":12100,"filled":true,"opacity":1,"color":"#008000","strokeWidth":0},"encoding":{"x":{"datum":0,"type":"quantitative","axis":null},"y":{"datum":0,"type":"quantitative","axis":null}}},
   {"mark":{"type":"point","shape":"M 0 -0.994 A 1 1 0 0 1 0 0.994 A 1 1 0 0 1 0 -0.994 Z","size":12100,"filled":true,"opacity":1,"color":"#f6aa3c","strokeWidth":0},"encoding":{"x":{"datum":0,"type":"quantitative","axis":null},"y":{"datum":0,"type":"quantitative","axis":null}}},
   {"mark":{"type":"point","shape":"M 1.346 0.927 A 0.673 0.673 0 1 1 0 0.927 A 0.673 0.673 0 1 1 1.346 0.927 Z","size":12100,"filled":true,"opacity":1,"color":"#1f6db6","strokeWidth":0},"encoding":{"x":{"datum":0,"type":"quantitative","axis":null},"y":{"datum":0,"type":"quantitative","axis":null}}},
   {"mark":{"type":"point","shape":"M 0.004 0.995 A 1 1 0 0 0 1.04 0.363 A 0.673 0.673 0 0 0 0.004 0.995 Z","size":12100,"filled":true,"opacity":1,"color":"#3aa7df","strokeWidth":0},"encoding":{"x":{"datum":0,"type":"quantitative","axis":null},"y":{"datum":0,"type":"quantitative","axis":null}}},
   {"mark":{"type":"point","shape":"M 0.003 0.994 A 1 1 0 0 0 0.852 0.278 A 0.673 0.673 0 0 0 0.003 0.994 Z","size":12100,"filled":true,"opacity":1,"color":"#ffffff","strokeWidth":0},"encoding":{"x":{"datum":0,"type":"quantitative","axis":null},"y":{"datum":0,"type":"quantitative","axis":null}}},
   {"mark":{"type":"text","text":"C","align":"left","baseline":"alphabetic","fontSize":21},"encoding":{"x":{"datum":-1.69,"type":"quantitative","axis":null},"y":{"datum":-1.818,"type":"quantitative","axis":null}}},
   {"mark":{"type":"text","text":"Catch","align":"left","baseline":"middle","color":"#29a3dc"},"encoding":{"x":{"datum":-1.66,"type":"quantitative","axis":null},"y":{"datum":-1.18,"type":"quantitative","axis":null}}},
   {"mark":{"type":"text","text":"vs P100","align":"left","baseline":"middle"},"encoding":{"x":{"datum":-0.995,"type":"quantitative","axis":null},"y":{"datum":-1.18,"type":"quantitative","axis":null}}},
   {"mark":{"type":"text","text":"Catch","align":"left","baseline":"middle","color":"#29a3dc"},"encoding":{"x":{"datum":0.43,"type":"quantitative","axis":null},"y":{"datum":-1.18,"type":"quantitative","axis":null}}},
   {"mark":{"type":"text","text":"vs","align":"left","baseline":"middle"},"encoding":{"x":{"datum":1.067,"type":"quantitative","axis":null},"y":{"datum":-1.18,"type":"quantitative","axis":null}}},
   {"mark":{"type":"text","text":"P1200","align":"left","baseline":"middle","color":"#e8202a"},"encoding":{"x":{"datum":1.35,"type":"quantitative","axis":null},"y":{"datum":-1.18,"type":"quantitative","axis":null}}},
   {"mark":{"type":"text","text":"2.4%","align":"center","baseline":"middle"},"encoding":{"x":{"datum":-1.4,"type":"quantitative","axis":null},"y":{"datum":-0.127,"type":"quantitative","axis":null}}},
   {"mark":{"type":"text","text":"11.1%","align":"center","baseline":"middle"},"encoding":{"x":{"datum":-0.024,"type":"quantitative","axis":null},"y":{"datum":-0.267,"type":"quantitative","axis":null}}},
   {"mark":{"type":"text","text":"1.6%","align":"center","baseline":"middle"},"encoding":{"x":{"datum":1.38,"type":"quantitative","axis":null},"y":{"datum":-0.194,"type":"quantitative","axis":null}}},
   {"mark":{"type":"text","text":"1.6%","align":"center","baseline":"middle"},"encoding":{"x":{"datum":0.49,"type":"quantitative","axis":null},"y":{"datum":0.46,"type":"quantitative","axis":null}}},
   {"mark":{"type":"text","text":"0.8%","align":"center","baseline":"middle"},"encoding":{"x":{"datum":0.667,"type":"quantitative","axis":null},"y":{"datum":0.764,"type":"quantitative","axis":null}}},
   {"mark":{"type":"text","text":"4.8%","align":"center","baseline":"middle"},"encoding":{"x":{"datum":0.818,"type":"quantitative","axis":null},"y":{"datum":1.218,"type":"quantitative","axis":null}}},
   {"mark":{"type":"text","text":"P100 vs","align":"left","baseline":"middle"},"encoding":{"x":{"datum":0.249,"type":"quantitative","axis":null},"y":{"datum":1.855,"type":"quantitative","axis":null}}},
   {"mark":{"type":"text","text":"P1200","align":"left","baseline":"middle","color":"#e8202a"},"encoding":{"x":{"datum":1.12,"type":"quantitative","axis":null},"y":{"datum":1.855,"type":"quantitative","axis":null}}}
  ]},

 {"width":1,"height":56,"data":{"values":[]},"mark":"point"},
 {"width":1,"height":56,"data":{"values":[]},"mark":"point"},
 {"width":1,"height":56,"data":{"values":[]},"mark":"point"},
 {"width":1,"height":56,"data":{"values":[]},"mark":"point"},
 {"width":1,"height":56,"data":{"values":[]},"mark":"point"},
 {"width":1,"height":56,"data":{"values":[]},"mark":"point"},

 {"width":58,"height":1,"data":{"values":[]},"mark":"point"},
 {"width":110,"height":199,
  "layer":[
   {"data":{"name":"dbars"},"mark":{"type":"bar","size":12,"fill":"#ffffff","stroke":"#000000","strokeWidth":1.5,"orient":"vertical"},"encoding":{"x":{"field":"c","type":"quantitative","scale":{"domain":[0.606,3.394],"range":[18,110],"nice":false,"zero":false},"axis":null},"y":{"field":"m","type":"quantitative","scale":{"domain":[48,100],"nice":false,"zero":false},"axis":{"title":["Correct discrimination","(% of trials)"],"values":[50,60,70,80,90,100],"labels":false,"offset":-18,"tickSize":4,"titleFontSize":12,"titleLineHeight":14,"titleX":-40,"titleY":99.5}},"y2":{"datum":48}}},
   {"data":{"name":"dpts"},"mark":{"type":"point","size":81,"filled":false,"color":"#a0a0a0","strokeWidth":1,"opacity":1},"encoding":{"x":{"field":"c","type":"quantitative","axis":null},"y":{"field":"v","type":"quantitative"}}},
   {"data":{"name":"dbars"},"mark":{"type":"rule","strokeWidth":1.5,"color":"#000"},"encoding":{"x":{"field":"c","type":"quantitative","axis":null},"y":{"field":"lo","type":"quantitative"},"y2":{"field":"hi"}}},
   {"data":{"name":"dbars"},"mark":{"type":"tick","orient":"horizontal","size":6,"thickness":1.5,"color":"#000"},"encoding":{"x":{"field":"c","type":"quantitative","axis":null},"y":{"field":"lo","type":"quantitative"}}},
   {"data":{"name":"dbars"},"mark":{"type":"tick","orient":"horizontal","size":6,"thickness":1.5,"color":"#000"},"encoding":{"x":{"field":"c","type":"quantitative","axis":null},"y":{"field":"hi","type":"quantitative"}}},
   {"data":{"name":"dtk"},"mark":{"type":"text","align":"right","baseline":"middle","fontSize":13,"fill":"#000000","opacity":1,"fillOpacity":1},"encoding":{"x":{"datum":0.476,"type":"quantitative","axis":null},"y":{"field":"tk","type":"quantitative"},"text":{"field":"tk","type":"quantitative"}}},
   {"data":{"values":[{}]},"mark":{"type":"rule","strokeWidth":1,"color":"#000"},"encoding":{"x":{"datum":1.2,"type":"quantitative","axis":null},"x2":{"datum":2.16},"y":{"datum":96.8,"type":"quantitative"}}},
   {"data":{"values":[{}]},"mark":{"type":"rule","strokeWidth":1,"color":"#000"},"encoding":{"x":{"datum":1.2,"type":"quantitative","axis":null},"y":{"datum":95.8,"type":"quantitative"},"y2":{"datum":96.8}}},
   {"data":{"values":[{}]},"mark":{"type":"rule","strokeWidth":1,"color":"#000"},"encoding":{"x":{"datum":2.16,"type":"quantitative","axis":null},"y":{"datum":95.8,"type":"quantitative"},"y2":{"datum":96.8}}},
   {"data":{"values":[{}]},"mark":{"type":"rule","strokeWidth":1,"color":"#000"},"encoding":{"x":{"datum":1.2,"type":"quantitative","axis":null},"x2":{"datum":3.15},"y":{"datum":101.1,"type":"quantitative"}}},
   {"data":{"values":[{}]},"mark":{"type":"rule","strokeWidth":1,"color":"#000"},"encoding":{"x":{"datum":1.2,"type":"quantitative","axis":null},"y":{"datum":100.1,"type":"quantitative"},"y2":{"datum":101.1}}},
   {"data":{"values":[{}]},"mark":{"type":"rule","strokeWidth":1,"color":"#000"},"encoding":{"x":{"datum":3.15,"type":"quantitative","axis":null},"y":{"datum":100.1,"type":"quantitative"},"y2":{"datum":101.1}}},
   {"data":{"values":[{}]},"mark":{"type":"text","text":"***","align":"center","baseline":"alphabetic","fontSize":10,"color":"#000000"},"encoding":{"x":{"datum":1.74,"type":"quantitative","axis":null},"y":{"datum":96.4,"type":"quantitative"}}},
   {"data":{"values":[{}]},"mark":{"type":"text","text":"***","align":"center","baseline":"alphabetic","fontSize":10,"color":"#000000"},"encoding":{"x":{"datum":2.2,"type":"quantitative","axis":null},"y":{"datum":101.3,"type":"quantitative"}}},
   {"data":{"values":[{}]},"mark":{"type":"text","text":"D","align":"left","baseline":"alphabetic","fontSize":21,"color":"#000000"},"encoding":{"x":{"datum":-1.606,"type":"quantitative","axis":null},"y":{"datum":99.74,"type":"quantitative"}}},
   {"data":{"name":"dlabels"},"transform":[{"filter":"datum.row==1"}],"mark":{"type":"text","baseline":"middle","align":"center","fontSize":11},"encoding":{"x":{"field":"c","type":"quantitative","axis":null},"y":{"datum":45.9,"type":"quantitative"},"text":{"field":"lab"},"color":{"field":"lab","type":"nominal","scale":{"domain":["P100","P1200","Catch"],"range":["#000000","#e8202a","#29a3dc"]},"legend":null}}},
   {"data":{"name":"dlabels"},"transform":[{"filter":"datum.row==2"}],"mark":{"type":"text","baseline":"middle","align":"center","fontSize":11},"encoding":{"x":{"field":"c","type":"quantitative","axis":null},"y":{"datum":42.5,"type":"quantitative"},"text":{"field":"lab"},"color":{"field":"lab","type":"nominal","legend":null}}}
  ]},
 {"width":16,"height":1,"data":{"values":[]},"mark":"point"},
 {"width":234,"height":202,
  "resolve":{"scale":{"y":"independent"}},
  "layer":[
   {"data":{"name":"e1"},"layer":[
    {"mark":{"type":"area","color":"#858585","opacity":1},"encoding":{"x":{"field":"t","type":"quantitative","scale":{"domain":[-0.45,8.68],"range":[97,234],"nice":false,"zero":false},"axis":null},"y":{"field":"lo","type":"quantitative","scale":{"domain":[0.41,0.8],"range":[163.2,15],"nice":false,"zero":false},"axis":{"title":"Decoding accuracy","values":[0.45,0.5,0.55,0.6,0.65,0.7,0.75,0.8],"labels":false,"offset":-97,"tickSize":3,"titleFontSize":12,"titleX":-27,"titleY":82}},"y2":{"field":"hi"}}},
    {"mark":{"type":"line","color":"#000","strokeWidth":1.3},"encoding":{"x":{"field":"t","type":"quantitative","axis":null},"y":{"field":"v","type":"quantitative"}}},
    {"data":{"values":[{}]},"mark":{"type":"rule","color":"#e0312f","strokeDash":[8,5],"strokeWidth":1.6},"encoding":{"x":{"datum":0,"type":"quantitative","axis":null},"x2":{"datum":8.6},"y":{"datum":0.5,"type":"quantitative"}}},
    {"data":{"values":[{"t":2.8},{"t":5.07}]},"mark":{"type":"rule","color":"#222222","strokeDash":[7,5],"strokeWidth":1.5},"encoding":{"x":{"field":"t","type":"quantitative","axis":null},"y":{"datum":0.358,"type":"quantitative"},"y2":{"datum":0.8}}},
    {"data":{"name":"etk"},"mark":{"type":"text","align":"right","baseline":"middle","fontSize":12.5,"fill":"#000000","opacity":1,"fillOpacity":1},"encoding":{"x":{"datum":-0.78,"type":"quantitative","axis":null},"y":{"field":"tk","type":"quantitative"},"text":{"field":"tk","type":"quantitative","format":".1f"}}},
    {"data":{"values":[{}]},"mark":{"type":"text","text":"E","align":"left","baseline":"alphabetic","fontSize":21},"encoding":{"x":{"datum":-3.52,"type":"quantitative","axis":null},"y":{"datum":0.829,"type":"quantitative"}}},
    {"data":{"values":[{}]},"mark":{"type":"text","text":"P100 vs","align":"left","baseline":"middle"},"encoding":{"x":{"datum":1.217,"type":"quantitative","axis":null},"y":{"datum":0.842,"type":"quantitative"}}},
    {"data":{"values":[{}]},"mark":{"type":"text","text":"P1200","align":"left","baseline":"middle","color":"#e8202a"},"encoding":{"x":{"datum":4.417,"type":"quantitative","axis":null},"y":{"datum":0.842,"type":"quantitative"}}}
   ]},
   {"layer":[
    {"data":{"name":"zonesE"},"transform":[{"filter":"datum.zone==='window'"}],"mark":{"type":"rect","color":"#f9d9a0"},"encoding":{"x":{"field":"t0","type":"quantitative","axis":null},"x2":{"field":"t1"},"y":{"datum":0,"type":"quantitative","scale":{"domain":[0,1],"range":[201,185],"nice":false,"zero":false},"axis":null},"y2":{"datum":1.06}}},
    {"data":{"name":"zonesE"},"transform":[{"filter":"datum.zone==='touch'"}],"mark":{"type":"rect","color":"#7fb843"},"encoding":{"x":{"field":"t0","type":"quantitative","axis":null},"x2":{"field":"t1"},"y":{"datum":0,"type":"quantitative","axis":null},"y2":{"datum":1.06}}},
    {"data":{"name":"zonesE"},"transform":[{"filter":"datum.zone==='hold'"}],"mark":{"type":"rect","color":"#34a935"},"encoding":{"x":{"field":"t0","type":"quantitative","axis":null},"x2":{"field":"t1"},"y":{"datum":0,"type":"quantitative","axis":null},"y2":{"datum":1.06}}},
    {"data":{"name":"trapE"},"mark":{"type":"line","color":"#000","strokeWidth":1.5},"encoding":{"x":{"field":"t","type":"quantitative","axis":null},"y":{"field":"lift","type":"quantitative","axis":null}}},
    {"data":{"values":[{}]},"mark":{"type":"rule","color":"#000","strokeWidth":1.5},"encoding":{"x":{"datum":6.48,"type":"quantitative","axis":null},"x2":{"datum":8.48},"y":{"datum":-0.33,"type":"quantitative","axis":null}}},
    {"data":{"values":[{}]},"mark":{"type":"text","text":"2s","align":"center","baseline":"middle"},"encoding":{"x":{"datum":7.6,"type":"quantitative","axis":null},"y":{"datum":-1.0,"type":"quantitative","axis":null}}}
   ]}
  ]},
 {"width":47,"height":1,"data":{"values":[]},"mark":"point"},
 {"width":137,"height":202,
  "resolve":{"scale":{"y":"independent"}},
  "layer":[
   {"data":{"name":"e2"},"layer":[
    {"mark":{"type":"area","color":"#8ccde5","opacity":1},"encoding":{"x":{"field":"t","type":"quantitative","scale":{"domain":[-0.45,8.68],"nice":false,"zero":false},"axis":null},"y":{"field":"lo","type":"quantitative","scale":{"domain":[0.41,0.8],"range":[163.2,15],"nice":false,"zero":false},"axis":{"title":"Decoding accuracy","values":[0.45,0.5,0.55,0.6,0.65,0.7,0.75,0.8],"labels":false,"tickSize":3,"titleFontSize":12,"titleX":-29,"titleY":83}},"y2":{"field":"hi"}}},
    {"mark":{"type":"line","color":"#2a8fcf","strokeWidth":1.3},"encoding":{"x":{"field":"t","type":"quantitative","axis":null},"y":{"field":"v","type":"quantitative"}}},
    {"data":{"values":[{}]},"mark":{"type":"rule","color":"#e0312f","strokeDash":[8,5],"strokeWidth":1.6},"encoding":{"x":{"datum":-0.05,"type":"quantitative","axis":null},"x2":{"datum":8.45},"y":{"datum":0.5,"type":"quantitative"}}},
    {"data":{"values":[{"t":2.75},{"t":5.08}]},"mark":{"type":"rule","color":"#222222","strokeDash":[7,5],"strokeWidth":1.5},"encoding":{"x":{"field":"t","type":"quantitative","axis":null},"y":{"datum":0.358,"type":"quantitative"},"y2":{"datum":0.8}}},
    {"data":{"name":"etk"},"mark":{"type":"text","align":"right","baseline":"middle","fontSize":12.5,"fill":"#000000","opacity":1,"fillOpacity":1},"encoding":{"x":{"datum":-0.78,"type":"quantitative","axis":null},"y":{"field":"tk","type":"quantitative"},"text":{"field":"tk","type":"quantitative","format":".1f"}}},
    {"data":{"values":[{}]},"mark":{"type":"text","text":"Catch","align":"left","baseline":"middle","color":"#29a3dc"},"encoding":{"x":{"datum":0.683,"type":"quantitative","axis":null},"y":{"datum":0.842,"type":"quantitative"}}},
    {"data":{"values":[{}]},"mark":{"type":"text","text":"vs textures","align":"left","baseline":"middle"},"encoding":{"x":{"datum":3.017,"type":"quantitative","axis":null},"y":{"datum":0.842,"type":"quantitative"}}}
   ]},
   {"layer":[
    {"data":{"name":"zonesE"},"transform":[{"filter":"datum.zone==='window'"}],"mark":{"type":"rect","color":"#f9d9a0"},"encoding":{"x":{"field":"t0","type":"quantitative","axis":null},"x2":{"field":"t1"},"y":{"datum":0,"type":"quantitative","scale":{"domain":[0,1],"range":[201,185],"nice":false,"zero":false},"axis":null},"y2":{"datum":1.06}}},
    {"data":{"name":"zonesE"},"transform":[{"filter":"datum.zone==='touch'"}],"mark":{"type":"rect","color":"#7fb843"},"encoding":{"x":{"field":"t0","type":"quantitative","axis":null},"x2":{"field":"t1"},"y":{"datum":0,"type":"quantitative","axis":null},"y2":{"datum":1.06}}},
    {"data":{"name":"zonesE"},"transform":[{"filter":"datum.zone==='hold'"}],"mark":{"type":"rect","color":"#34a935"},"encoding":{"x":{"field":"t0","type":"quantitative","axis":null},"x2":{"field":"t1"},"y":{"datum":0,"type":"quantitative","axis":null},"y2":{"datum":1.06}}},
    {"data":{"name":"trapE"},"mark":{"type":"line","color":"#000","strokeWidth":1.5},"encoding":{"x":{"field":"t","type":"quantitative","axis":null},"y":{"field":"lift","type":"quantitative","axis":null}}}
   ]}
  ]}
]
}
